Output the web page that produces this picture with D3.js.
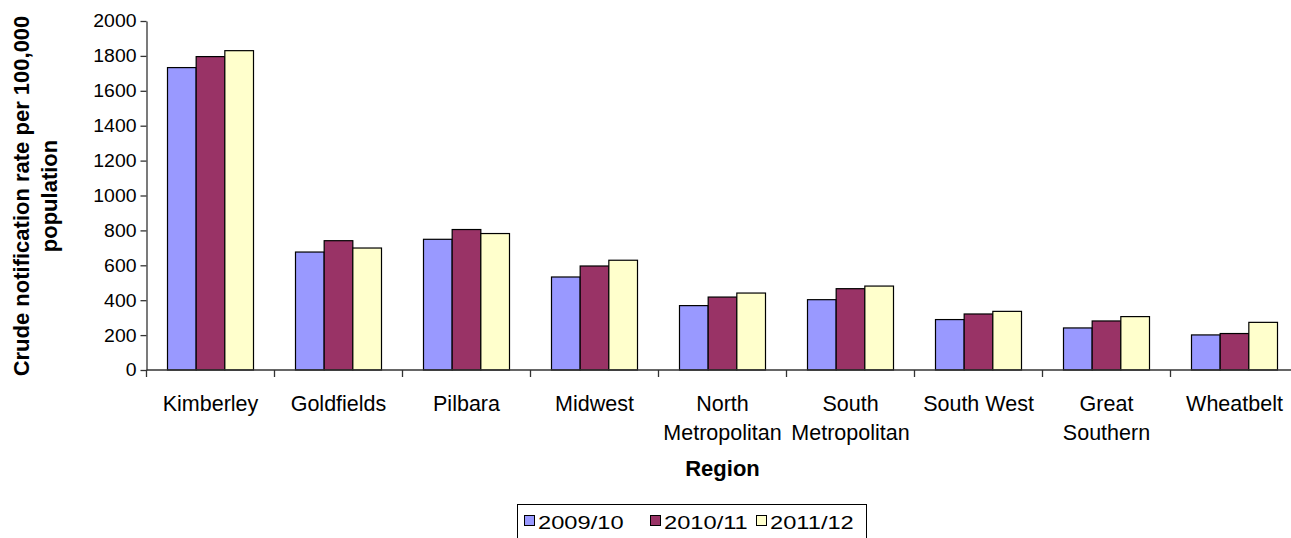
<!DOCTYPE html>
<html>
<head>
<meta charset="utf-8">
<script src="https://cdn.jsdelivr.net/npm/d3@7"></script>
<style>
  html, body { margin: 0; padding: 0; background: #fff; }
  svg { display: block; font-family: "Liberation Sans", Arial, sans-serif; }
</style>
</head>
<body>
<svg id="chart" width="1291" height="538"></svg>
<script>
const categories = ["Kimberley", "Goldfields", "Pilbara", "Midwest", "North Metropolitan",
  "South Metropolitan", "South West", "Great Southern", "Wheatbelt"];
const categoryLabels = [["Kimberley"], ["Goldfields"], ["Pilbara"], ["Midwest"], ["North", "Metropolitan"],
  ["South", "Metropolitan"], ["South West"], ["Great", "Southern"], ["Wheatbelt"]];
const seriesNames = ["2009/10", "2010/11", "2011/12"];
const values2009 = [1733, 676, 749, 533, 369, 403, 289, 241, 201];
const values2010 = [1796, 741, 805, 596, 418, 466, 321, 281, 209];
const values2011 = [1830, 699, 782, 629, 441, 481, 336, 306, 273];
const yTicks = [0, 200, 400, 600, 800, 1000, 1200, 1400, 1600, 1800, 2000];
const colors = ["#9999FF", "#993366", "#FFFFCC"];

const seriesValues = [values2009, values2010, values2011];

const svg = d3.select("#chart");
const plotLeft = 146.5, plotRight = 1298.5, plotTop = 21, plotBottom = 370;

const x0 = d3.scaleBand().domain(categories).range([plotLeft, plotRight]).padding(0);
const x1 = d3.scaleBand().domain(seriesNames).range([21, 107]).padding(0);
const y = d3.scaleLinear().domain([0, 2000]).range([plotBottom, plotTop]);

// bars
const groups = svg.append("g").selectAll("g")
  .data(categories)
  .join("g")
  .attr("transform", d => `translate(${x0(d)},0)`);

groups.selectAll("rect")
  .data((c, i) => seriesNames.map((s, j) => ({ s, j, v: seriesValues[j][i] })))
  .join("rect")
  .attr("x", d => x1(d.s))
  .attr("y", d => y(d.v))
  .attr("width", x1.bandwidth())
  .attr("height", d => y(0) - y(d.v))
  .attr("fill", d => colors[d.j])
  .attr("stroke", "#000")
  .attr("stroke-width", 1.2);

// y axis
const yAxis = svg.append("g")
  .attr("transform", `translate(${plotLeft},0)`)
  .call(d3.axisLeft(y).tickValues(yTicks).tickFormat(d3.format("d")).tickSize(6).tickSizeOuter(0));
yAxis.select(".domain").attr("stroke", "#333").attr("stroke-width", 1.3);
yAxis.selectAll(".tick line").attr("stroke", "#333").attr("stroke-width", 1.3);
yAxis.selectAll(".tick text")
  .attr("font-size", 18.5)
  .attr("fill", "#000")
  .attr("font-family", "Liberation Sans, Arial, sans-serif")
  .attr("text-anchor", "end")
  .attr("x", 0)
  .attr("transform", "translate(-10,0) scale(1.05,1)");

// x axis
const xAxis = svg.append("g");
xAxis.append("line")
  .attr("x1", plotLeft).attr("x2", plotRight)
  .attr("y1", plotBottom).attr("y2", plotBottom)
  .attr("stroke", "#333").attr("stroke-width", 1.3);
xAxis.selectAll("line.tk")
  .data(categories)
  .join("line")
  .attr("class", "tk")
  .attr("x1", d => x0(d)).attr("x2", d => x0(d))
  .attr("y1", plotBottom).attr("y2", plotBottom + 7)
  .attr("stroke", "#333").attr("stroke-width", 1.3);

const labels = xAxis.selectAll("text.cat")
  .data(categories)
  .join("text")
  .attr("class", "cat")
  .attr("text-anchor", "middle")
  .attr("font-size", 21.5)
  .attr("fill", "#000")
  .attr("x", d => x0(d) + x0.bandwidth() / 2)
  .attr("y", 411);
labels.each(function (d, i) {
  const t = d3.select(this);
  categoryLabels[i].forEach((line, k) => {
    t.append("tspan")
      .attr("x", x0(d) + x0.bandwidth() / 2)
      .attr("dy", k === 0 ? 0 : 29)
      .text(line);
  });
});

// axis titles
svg.append("text")
  .attr("x", (plotLeft + plotRight) / 2)
  .attr("y", 476)
  .attr("text-anchor", "middle")
  .attr("font-size", 22)
  .attr("font-weight", "bold")
  .text("Region");

const yt = svg.append("text")
  .attr("transform", "translate(29,196) rotate(-90)")
  .attr("text-anchor", "middle")
  .attr("font-size", 22)
  .attr("font-weight", "bold");
yt.append("tspan").attr("x", 0).attr("dy", 0).text("Crude notification rate per 100,000");
yt.append("tspan").attr("x", 0).attr("dy", 28).text("population");

// legend
const legend = svg.append("g");
legend.append("rect")
  .attr("x", 517.5).attr("y", 504.5)
  .attr("width", 349).attr("height", 45)
  .attr("fill", "#fff").attr("stroke", "#000").attr("stroke-width", 1);
const legendX = [524, 650, 756];
const items = legend.selectAll("g.item")
  .data(seriesNames)
  .join("g")
  .attr("class", "item")
  .attr("transform", (d, i) => `translate(${legendX[i]},0)`);
items.append("rect")
  .attr("x", 0.5).attr("y", 515.5)
  .attr("width", 10).attr("height", 10)
  .attr("fill", (d, i) => colors[i])
  .attr("stroke", "#000").attr("stroke-width", 1);
items.append("text")
  .attr("x", 0)
  .attr("y", 0)
  .attr("transform", "translate(14,529) scale(1.28,1)")
  .attr("font-size", 18.5)
  .attr("fill", "#000")
  .text(d => d);
</script>
</body>
</html>
